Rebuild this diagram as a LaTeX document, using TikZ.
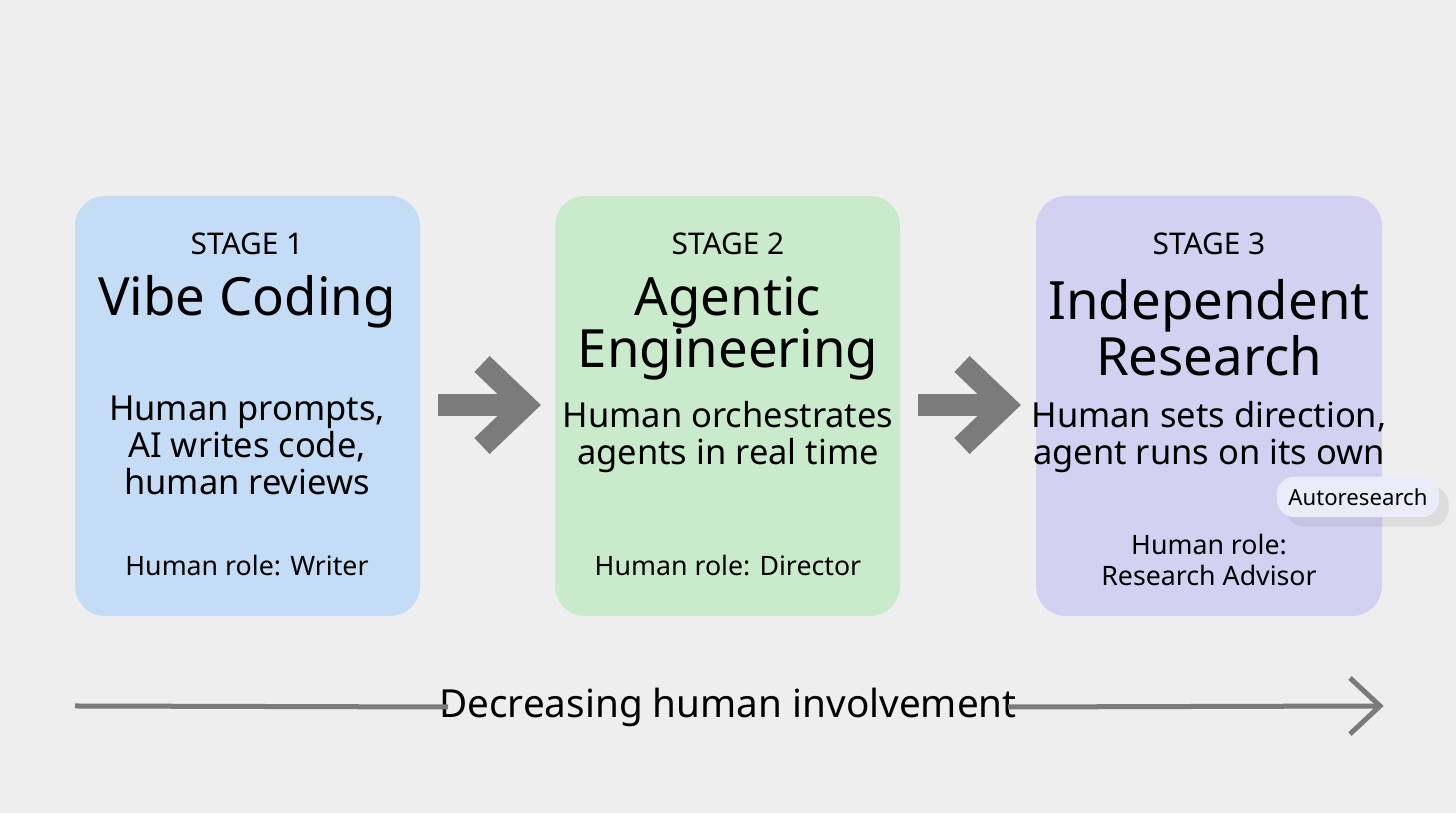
\documentclass[tikz,border=0pt]{standalone}
\usepackage{fontspec}
\setmainfont{Noto Sans}
\usetikzlibrary{shadows}
\definecolor{bg}{HTML}{EEEEEE}
\definecolor{boxblue}{HTML}{C4DCF5}
\definecolor{boxgreen}{HTML}{C9EBCB}
\definecolor{boxpurple}{HTML}{D3D1F1}
\definecolor{arrowgray}{HTML}{7B7B7B}
\definecolor{pillfill}{HTML}{EBEBF9}
\begin{document}
\begin{tikzpicture}
		[x=0.01cm,y=-0.01cm,
		stagebox/.style={draw=none,rounded corners=0.3cm},
		stagelbl/.style={font=\fontsize{8.5}{10}\selectfont\bfseries},
		title/.style={font=\fontsize{15}{14.8}\selectfont\bfseries,align=center},
		body/.style={font=\fontsize{9.8}{10.5}\selectfont,align=center},
		role/.style={font=\fontsize{7.6}{8.8}\selectfont,align=center},
		chev/.style={draw=arrowgray,line width=0.22cm,miter limit=10},
		]
		\fill[bg] (0,0) rectangle (1456,813);

		\fill[stagebox,boxblue] (75,196) rectangle (420,616);
		\fill[stagebox,boxgreen] (555,196) rectangle (900,616);
		\fill[stagebox,boxpurple] (1036,196) rectangle (1382,616);

		\node[stagelbl,name=s1] at (247,244) {STAGE 1};
		\node[stagelbl,name=s2] at (728,244) {STAGE 2};
		\node[stagelbl,name=s3] at (1209,244) {STAGE 3};
		\node[title,name=t1] at (247,302) {Vibe Coding};
		\node[title,name=t2] at (728,328) {Agentic\\Engineering};
		\node[title,name=t3] at (1209,328) {Independent\\Research};
		\node[body,name=b1] at (247,445) {Human prompts,\\AI writes code,\\human reviews};
		\node[body,name=b2] at (728,437) {Human orchestrates\\agents in real time};
		\node[body,name=b3] at (1209,437) {Human sets direction,\\agent runs on its own};
		\node[role,name=r1] at (247,566) {Human role: Writer};
		\node[role,name=r2] at (728,566) {Human role: Director};
		\node[role,name=r3] at (1209,560) {Human role:\\Research Advisor};

		\node[name=pill,rounded corners=0.18cm,fill=pillfill,drop shadow={opacity=0.15},
			minimum width=1.6cm,minimum height=0.36cm,
			font=\fontsize{6.3}{7}\selectfont] at (1358,497) {Autoresearch};

		% chevron arrows between stages
		\foreach \x in {438,918} {
			\draw[chev] (\x,405) -- (\x+80,405);
			\draw[chev] (\x+44,364) -- (\x+87,405) -- (\x+44,446);
		}

		% bottom axis
		\node[name=axis,font=\fontsize{11}{12}\selectfont] at (728,707) {Decreasing human involvement};
		\coordinate (axstart) at (75,706);
		\coordinate (axend) at (1380,706);
		\draw[arrowgray,line width=0.05cm] (axstart) -- (axis.west-|448,0);
		\draw[arrowgray,line width=0.05cm] (axis.east-|1008,0) -- (axend);
		\draw[arrowgray,line width=0.05cm] (1350,678) -- (axend) -- (1350,734);
\end{tikzpicture}
\end{document}
